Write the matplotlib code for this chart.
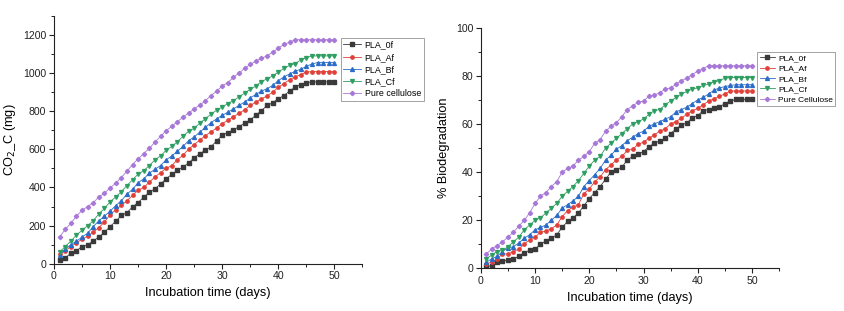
import matplotlib
matplotlib.use("Agg")
import matplotlib.pyplot as plt
import numpy as np
from matplotlib.ticker import MultipleLocator

plt.rcParams['font.family'] = ['Liberation Sans', 'DejaVu Sans']

days = list(range(1, 51))

co2_0f = [17, 30, 55, 68, 90, 98, 120, 140, 165, 195, 222, 253, 268, 298, 321, 349, 374, 393, 418, 446,
          468, 489, 507, 528, 556, 577, 596, 614, 644, 674, 688, 702, 719, 737, 754, 779, 803, 830, 844, 865,
          882, 905, 926, 940, 949, 954, 954, 954, 954, 954]
co2_Af = [52, 68, 90, 110, 128, 145, 165, 190, 218, 258, 282, 306, 330, 358, 385, 400, 428, 455, 478, 500,
          515, 545, 570, 600, 625, 648, 672, 692, 712, 735, 752, 772, 788, 808, 830, 848, 865, 880, 900, 925,
          945, 965, 980, 992, 1005, 1008, 1008, 1008, 1008, 1008]
co2_Bf = [45, 75, 100, 118, 140, 160, 195, 225, 250, 275, 305, 330, 365, 390, 425, 445, 475, 495, 515, 545,
          565, 590, 615, 645, 665, 690, 715, 740, 760, 778, 795, 812, 830, 848, 870, 888, 905, 918, 935, 960,
          980, 995, 1010, 1020, 1035, 1048, 1055, 1055, 1055, 1055]
co2_Cf = [62, 90, 118, 150, 175, 200, 225, 262, 290, 325, 350, 378, 410, 440, 470, 488, 515, 545, 565, 595,
          615, 640, 668, 695, 710, 738, 760, 785, 805, 822, 840, 855, 875, 895, 915, 932, 955, 970, 985, 1005,
          1025, 1040, 1050, 1068, 1080, 1090, 1090, 1090, 1090, 1090]
co2_cel = [140, 180, 212, 250, 280, 300, 320, 350, 370, 398, 422, 452, 485, 520, 550, 578, 605, 638, 668, 698,
           720, 745, 768, 790, 812, 832, 855, 882, 905, 932, 950, 978, 1000, 1025, 1045, 1062, 1078, 1090, 1110, 1130,
           1150, 1162, 1175, 1175, 1175, 1175, 1175, 1175, 1175, 1175]

bio_0f = [1, 1, 2.5, 3, 3.5, 4, 5, 6.5, 7.5, 8, 10, 11.5, 12.5, 14, 17, 19.5, 21, 23, 26, 29,
          31.5, 34, 37, 40, 41, 42, 45, 46.5, 47.5, 48.5, 50.5, 52, 53, 54, 56, 58, 59.5, 60.5, 62.5, 63.5,
          65.5, 66, 66.5, 67, 68.5, 69.5, 70.2, 70.2, 70.2, 70.2]
bio_Af = [2, 2.5, 4, 6, 6, 7, 8, 10, 12, 13, 15, 15.5, 16.5, 18, 21.5, 24, 25.5, 26.5, 31, 33,
          36, 38, 41, 43, 45, 46.5, 49, 49.5, 51.5, 52.5, 54, 55.5, 57, 58, 60, 61, 62.5, 64, 65.5, 66.5,
          68, 69.5, 70.5, 71.5, 72.5, 73.7, 73.7, 73.7, 73.7, 73.7]
bio_Bf = [2.5, 4, 5, 7, 8.5, 9, 10.5, 12.5, 14, 16, 17, 18, 20, 22, 25, 26.5, 28, 30, 34, 36.5,
          39, 41.5, 45, 47, 49.5, 51, 53, 54.5, 56, 57, 59, 60, 61, 62, 63, 65, 66, 67, 68.5, 70,
          71, 72.5, 74, 75, 75.5, 76, 76.3, 76.3, 76.3, 76.3]
bio_Cf = [4, 5.5, 7, 7.5, 9, 11, 13, 16, 18, 20, 21, 23, 25, 27, 30, 32, 34, 36.5, 39.5, 42.5,
          45, 46.5, 50, 52, 54, 56, 58, 60, 61, 62, 64, 65.5, 66, 68, 69.5, 71, 72.5, 73.5, 74.5, 75,
          76, 76.5, 77.5, 78, 79, 79.3, 79.3, 79.3, 79.3, 79.3]
bio_cel = [6, 8, 9.5, 11, 13, 15, 17.5, 20, 23, 27, 30, 31.5, 34, 36, 40, 41.5, 42.5, 45, 46.5, 48.5,
           52, 53.5, 57, 59, 60.5, 63, 66, 67.5, 69, 69.5, 71.5, 72, 73, 74.5, 75, 76.5, 78, 79, 80.5, 82,
           83, 84.2, 84.2, 84.2, 84.2, 84.2, 84.2, 84.2, 84.2, 84.2]

labels_left = ["PLA_0f", "PLA_Af", "PLA_Bf", "PLA_Cf", "Pure cellulose"]
labels_right = ["PLA_0f", "PLA_Af", "PLA_Bf", "PLA_Cf", "Pure Cellulose"]

colors = ["#3a3a3a", "#e0403a", "#2a6cc8", "#2f9e62", "#a878d8"]
markers = ["s", "o", "^", "v", "D"]
msizes = [2.2, 2.4, 2.8, 2.8, 2.2]

fig = plt.figure(figsize=(8.45, 3.11), dpi=100)
ax1 = fig.add_axes([0.0639, 0.152, 0.365, 0.797])
ax2 = fig.add_axes([0.569, 0.137, 0.353, 0.774])

def style(ax):
    for s in ['top', 'right']:
        ax.spines[s].set_visible(False)
    for s in ['left', 'bottom']:
        ax.spines[s].set_linewidth(0.8)
        ax.spines[s].set_color('#222222')
    ax.tick_params(which='major', direction='out', length=3.5, width=0.8, labelsize=7.6, colors='#222222', pad=2)
    ax.tick_params(which='minor', direction='out', length=2, width=0.7, colors='#222222')
    ax.xaxis.set_major_locator(MultipleLocator(10))
    ax.xaxis.set_minor_locator(MultipleLocator(5))
    ax.set_xlim(0, 55)
    ax.set_xlabel("Incubation time (days)", fontsize=9.2, labelpad=4)

left_series = [co2_0f, co2_Af, co2_Bf, co2_Cf, co2_cel]
for ys, c, m, ms, lab in zip(left_series, colors, markers, msizes, labels_left):
    ax1.plot(days, ys, color=c, lw=0.6, marker=m, ms=ms, mec=c, mfc=c, label=lab)
style(ax1)
ax1.set_ylim(0, 1300)
ax1.yaxis.set_major_locator(MultipleLocator(200))
ax1.yaxis.set_minor_locator(MultipleLocator(100))
ax1.set_ylabel("CO$_2$_C (mg)", fontsize=9.2, labelpad=4)

right_series = [bio_0f, bio_Af, bio_Bf, bio_Cf, bio_cel]
for ys, c, m, ms, lab in zip(right_series, colors, markers, msizes, labels_right):
    ax2.plot(days, ys, color=c, lw=0.6, marker=m, ms=ms, mec=c, mfc=c, label=lab)
style(ax2)
ax2.set_ylim(0, 100)
ax2.yaxis.set_major_locator(MultipleLocator(20))
ax2.yaxis.set_minor_locator(MultipleLocator(10))
ax2.set_ylabel("% Biodegradation", fontsize=9.2, labelpad=4)

for ax, anchor, fs, hl, ls in [(ax1, (0.403, 0.878), 6.4, 2.0, 0.35), (ax2, (0.896, 0.833), 6.0, 1.8, 0.3)]:
    leg = ax.legend(loc='upper left', bbox_to_anchor=anchor, bbox_transform=fig.transFigure,
                    fontsize=fs, frameon=True, fancybox=False, handlelength=hl, handletextpad=0.4,
                    labelspacing=ls, borderpad=0.3, borderaxespad=0, markerscale=1.0)
    leg.get_frame().set_edgecolor('#777777')
    leg.get_frame().set_linewidth(0.6)

fig.savefig("out.png", dpi=100)
